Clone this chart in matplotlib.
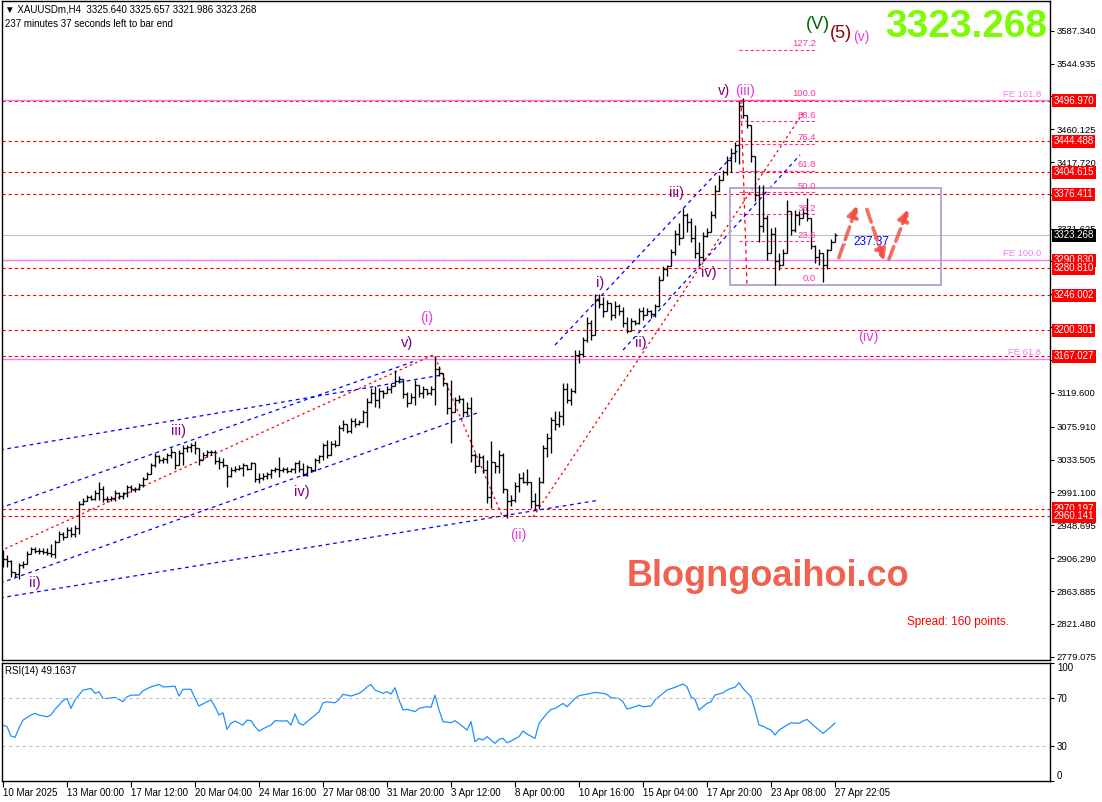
import numpy as np
import matplotlib
matplotlib.use('Agg')
import matplotlib.pyplot as plt
from matplotlib.collections import LineCollection
from matplotlib.patches import Rectangle
from matplotlib.transforms import blended_transform_factory

plt.rcParams['font.family'] = ['Liberation Sans', 'DejaVu Sans']

# XAUUSDm H4 bars (high / low / close)
highs = [
    2917, 2910, 2904, 2889, 2900, 2902, 2915, 2921, 2921, 2920,
    2919, 2920, 2925, 2930, 2941, 2940, 2947, 2947, 2949, 2980,
    2984, 2988, 2988, 2994, 3005, 2999, 2986, 2986, 2994, 2992,
    2992, 3001, 3001, 2998, 3003, 3011, 3018, 3029, 3042, 3040,
    3037, 3042, 3048, 3043, 3046, 3052, 3052, 3055, 3057, 3048,
    3044, 3046, 3046, 3046, 3037, 3035, 3027,
    3024, 3025, 3027, 3029, 3027, 3031, 3029, 3016, 3016, 3018,
    3022, 3024, 3037, 3024, 3024, 3023, 3031, 3033, 3029, 3027,
    3024, 3035, 3040, 3055, 3059, 3057, 3059, 3078, 3085, 3080,
    3087, 3087, 3085, 3098, 3113, 3126, 3128, 3126, 3123, 3128,
    3132, 3149, 3141, 3138, 3121, 3119, 3136, 3130, 3128, 3125,
    3128, 3167, 3154, 3145, 3132, 3136, 3115, 3117, 3113, 3108,
    3115, 3042,
    3042, 3040, 3033, 3057, 3031, 3046, 3042, 2995, 2988, 3005,
    3016, 3018, 3022, 3004, 2990, 3011, 3052, 3068, 3089, 3096,
    3096, 3132, 3132, 3126, 3175, 3175, 3192, 3218, 3214, 3248,
    3248, 3244, 3240, 3236, 3238, 3235, 3231, 3218, 3216, 3214,
    3229, 3231, 3229, 3227, 3235, 3270, 3283, 3285,
    3306, 3330, 3339, 3358, 3352, 3345, 3337, 3315, 3328, 3332,
    3354, 3388, 3401, 3408, 3425, 3436, 3444, 3496, 3500, 3478,
    3465, 3425, 3388, 3388, 3350, 3332, 3334, 3300, 3306, 3369,
    3355, 3356, 3354, 3358, 3371, 3345, 3311, 3306, 3300, 3306,
    3319, 3326,
]
lows = [
    2895, 2895, 2882, 2882, 2880, 2893, 2899, 2912, 2913, 2912,
    2912, 2911, 2908, 2906, 2927, 2930, 2934, 2933, 2934, 2937,
    2975, 2980, 2981, 2981, 2981, 2979, 2979, 2980, 2980, 2983,
    2983, 2985, 2992, 2992, 2994, 2998, 3009, 3015, 3024, 3029,
    3029, 3029, 3035, 3022, 3026, 3027, 3044, 3044, 3041, 3026,
    3033, 3037, 3039, 3028, 3022, 3024, 2998,
    3011, 3018, 3020, 3012, 3020, 3022, 3005, 3003, 3007, 3009,
    3010, 3018, 3011, 3018, 3016, 3018, 3016, 3018, 3012, 3013,
    3018, 3019, 3029, 3033, 3035, 3040, 3050, 3053, 3070, 3068,
    3068, 3076, 3078, 3082, 3076, 3106, 3102, 3100, 3113, 3119,
    3119, 3128, 3132, 3113, 3102, 3106, 3104, 3115, 3113, 3117,
    3117, 3104, 3141, 3128, 3093, 3055, 3095, 3106, 3089, 3091,
    3030, 3016,
    3025, 3016, 2977, 2971, 3016, 3016, 2990, 2958, 2973, 2979,
    2992, 3003, 3001, 2971, 2968, 2970, 3003, 3037, 3042, 3072,
    3076, 3078, 3106, 3104, 3120, 3158, 3166, 3186, 3188, 3195,
    3229, 3218, 3225, 3214, 3216, 3220, 3205, 3197, 3200, 3207,
    3209, 3214, 3220, 3216, 3218, 3231, 3265, 3270,
    3284, 3298, 3311, 3320, 3328, 3315, 3294, 3285, 3290, 3321,
    3328, 3345, 3380, 3395, 3401, 3405, 3418, 3415, 3474, 3462,
    3418, 3368, 3315, 3328, 3291, 3300, 3259, 3278, 3285, 3300,
    3324, 3328, 3336, 3345, 3341, 3306, 3287, 3285, 3263, 3280,
    3304, 3315,
]
closes = [
    2905, 2903, 2888, 2886, 2897, 2899, 2912, 2918, 2916, 2915,
    2914, 2913, 2912, 2927, 2937, 2934, 2943, 2937, 2945, 2976,
    2980, 2985, 2983, 2990, 2996, 2983, 2983, 2984, 2990, 2986,
    2990, 2998, 2996, 2995, 3001, 3009, 3015, 3026, 3038, 3033,
    3034, 3039, 3043, 3027, 3042, 3049, 3050, 3052, 3048, 3033,
    3040, 3043, 3044, 3032, 3030, 3026, 3012,
    3020, 3022, 3023, 3026, 3022, 3029, 3008, 3010, 3012, 3015,
    3020, 3022, 3020, 3022, 3019, 3021, 3029, 3022, 3014, 3024,
    3020, 3033, 3038, 3052, 3040, 3054, 3053, 3075, 3080, 3071,
    3084, 3080, 3082, 3095, 3108, 3120, 3110, 3122, 3119, 3125,
    3128, 3135, 3137, 3118, 3106, 3115, 3130, 3120, 3125, 3120,
    3125, 3150, 3145, 3132, 3100, 3095, 3110, 3112, 3095, 3100,
    3040, 3025,
    3037, 3020, 2985, 3030, 3025, 3040, 2995, 2980, 2982, 3000,
    3010, 3005, 3004, 2980, 2975, 3005, 3048, 3062, 3085, 3080,
    3090, 3125, 3110, 3122, 3168, 3170, 3188, 3210, 3195, 3240,
    3235, 3225, 3236, 3220, 3232, 3225, 3210, 3200, 3212, 3210,
    3225, 3220, 3226, 3222, 3232, 3265, 3280, 3284,
    3302, 3325, 3320, 3350, 3340, 3320, 3300, 3295, 3322, 3328,
    3350, 3380, 3395, 3405, 3420, 3430, 3440, 3490, 3478, 3465,
    3425, 3375, 3335, 3345, 3300, 3325, 3290, 3285, 3300, 3355,
    3330, 3350, 3345, 3352, 3345, 3310, 3295, 3300, 3285, 3304,
    3315, 3323,
]
first_open = 2912
opens = [first_open] + closes[:-1]

# RSI(14) read at bar positions
rsi_idx = [0, 1, 2, 3, 4, 5, 7, 8, 9, 11, 12, 13, 14, 15, 16, 17, 18, 20, 21, 22,
           23, 24, 25, 26, 28, 29, 30, 31, 32, 34, 35, 37, 39, 40, 41, 43, 44, 45, 47, 48,
           49, 51, 52, 53, 54, 55, 56, 57, 58, 60, 61, 62, 63, 64, 66, 67, 68, 70, 71, 72,
           73, 74, 75, 77, 79, 80, 81, 83, 84, 85, 86, 87, 89, 90, 91, 92, 93, 95, 96, 97,
           98, 99, 100, 101, 103, 104, 106, 107, 108, 109, 110, 112, 113, 115, 116, 117, 118, 119, 120, 121,
           123, 124, 125, 126, 127, 129, 130, 131, 133, 134, 136, 137, 138, 139, 140, 141, 143, 144, 146, 147,
           148, 150, 151, 152, 154, 155, 156, 158, 159, 160, 162, 163, 165, 166, 168, 170, 171, 172, 173, 174,
           176, 177, 178, 180, 181, 182, 183, 184, 185, 187, 188, 189, 190, 191, 192, 193, 194, 196, 197, 199,
           200, 201, 203, 204, 205, 207, 208]
rsi_val = [47.4, 46.0, 38.1, 37.0, 45.0, 51.6, 55.9, 57.3, 55.9, 54.4, 55.9, 60.7, 64.3, 68.0, 69.9, 61.5, 68.6, 77.0, 77.6, 78.4,
           74.2, 75.6, 69.9, 69.9, 70.8, 69.1, 67.1, 71.3, 72.7, 72.7, 76.4, 79.7, 81.7, 79.7, 79.7, 80.3, 71.9, 77.6, 77.6, 69.9,
           63.5, 67.1, 68.6, 62.9, 55.9, 57.8, 43.8, 48.9, 50.8, 47.4, 51.6, 51.1, 46.0, 42.4, 46.0, 47.4, 51.1, 50.8, 51.1, 47.4,
           56.7, 48.9, 47.4, 53.0, 58.6, 66.2, 67.1, 66.2, 69.1, 73.3, 72.7, 71.9, 74.2, 76.4, 79.7, 81.7, 77.0, 74.2, 75.6, 73.6,
           79.0, 68.6, 60.2, 60.7, 58.8, 61.5, 63.0, 62.4, 72.7, 60.2, 50.3, 49.4, 51.1, 46.0, 43.2, 50.3, 33.4, 36.2, 34.7, 37.6,
           32.0, 35.3, 36.2, 32.5, 33.9, 37.6, 42.4, 39.8, 36.2, 48.9, 57.3, 60.7, 61.5, 63.5, 65.7, 62.9, 69.9, 72.2, 73.6, 74.2,
           75.0, 74.2, 73.3, 70.5, 69.9, 67.1, 60.9, 62.9, 64.3, 62.9, 63.5, 68.6, 74.2, 77.0, 79.3, 82.1, 79.8, 71.3, 69.1, 60.1,
           65.7, 67.1, 72.7, 74.7, 77.0, 78.4, 79.3, 83.2, 78.4, 71.3, 60.1, 47.4, 46.6, 44.6, 43.2, 39.0, 43.2, 47.4, 49.4, 48.8,
           50.8, 52.2, 46.0, 43.2, 40.4, 46.0, 49.2]

# horizontal levels (red dashed, with price boxes)
red_levels = [3496.970, 3444.488, 3404.615, 3376.411, 3290.830, 3280.810,
              3246.002, 3200.301, 3167.027, 2970.197, 2960.141]
bid = 3323.268
fe_levels = [3163.8, 3291.3, 3497.5]
fe_names = ['FE 61.8', 'FE 100.0', 'FE 161.8']
fib_low, fib_high = 3259.0, 3497.9
fib_ratios = [0.0, 0.236, 0.382, 0.5, 0.618, 0.764, 0.886, 1.0, 1.272]
fib_names = ['0.0', '23.6', '38.2', '50.0', '61.8', '76.4', '88.6', '100.0', '127.2']

# price scale; labels hidden behind the level boxes are left blank
price_ticks = [3587.340, 3544.935, 3502.530, 3460.125, 3417.720, 3375.315, 3331.625,
               3290.005, 3247.600, 3205.195, 3162.665, 3119.600, 3075.910, 3033.505,
               2991.100, 2948.695, 2906.290, 2863.885, 2821.480, 2779.075]
price_labels = ['3587.340', '3544.935', '', '3460.125', '3417.720', '', '3331.625',
                '', '', '', '3162.665', '3119.600', '3075.910', '3033.505',
                '2991.100', '2948.695', '2906.290', '2863.885', '2821.480', '2779.075']
time_ticks = [0, 16, 32, 48, 64, 80, 96, 112, 128, 144, 160, 176, 192, 208]
time_labels = ['10 Mar 2025', '13 Mar 00:00', '17 Mar 12:00', '20 Mar 04:00', '24 Mar 16:00',
               '27 Mar 08:00', '31 Mar 20:00', '3 Apr 12:00', '8 Apr 00:00', '10 Apr 16:00',
               '15 Apr 04:00', '17 Apr 20:00', '23 Apr 08:00', '27 Apr 22:05']

fig = plt.figure(figsize=(11.02, 8.02), dpi=100)
ax = fig.add_axes([2/1102, 1-660/802, 1048/1102, 659/802])
rx = fig.add_axes([2/1102, 1-781.2/802, 1048/1102, 118.4/802])

xmin, xmax = -0.25, 261.75
ax.set_xlim(xmin, xmax)
ax.set_ylim(2774.8, 3625.7)

# bars
segs = []
for i in range(len(closes)):
    segs.append([(i, lows[i]), (i, highs[i])])
    segs.append([(i - 0.5, opens[i]), (i, opens[i])])
    segs.append([(i, closes[i]), (i + 0.5, closes[i])])
ax.add_collection(LineCollection(segs, colors='black', linewidths=0.95, zorder=3))

# levels
for lv in red_levels:
    ax.axhline(lv, color='#ff0000', lw=0.8, ls=(0, (3, 2.5)), zorder=2)
for lv, nm in zip(fe_levels, fe_names):
    ax.axhline(lv, color='#ee82ee', lw=1.0, zorder=2)
    ax.text(259.5, lv + 2, nm, color='#ee82ee', fontsize=6.8, ha='right', va='bottom')
ax.axhline(bid, color='#c0c0c0', lw=0.8, zorder=1)

# fibonacci retracement
fib_x0, fib_x1 = 184, 203.5
for r, nm in zip(fib_ratios, fib_names):
    lv = fib_low + r * (fib_high - fib_low)
    ax.plot([fib_x0, fib_x1], [lv, lv], color='#ff3399', lw=0.8, ls=(0, (3, 2)), zorder=2)
    ax.text(fib_x1 - 0.3, lv + 2, nm, color='#ff3399', fontsize=6.8, ha='right', va='bottom')
ax.plot([184.5, 186], [fib_high, fib_low], color='#ff0000', lw=0.9, ls=(0, (3, 3)), zorder=2)

# channels / trend lines (bar index, price)
blue_lines = [((-0.75, 3046), (110, 3143)),
              ((-0.75, 2971), (102.5, 3160)),
              ((-0.75, 2874), (119.25, 3095)),
              ((-0.75, 2855), (148.75, 2981)),
              ((138, 3181.5), (184.25, 3436)),
              ((155, 3175), (199.25, 3427))]
red_lines = [((-0.75, 2915.5), (107.5, 3168.6)),
             ((108, 3166), (125, 2958)),
             ((132.5, 2959.4), (200, 3481))]
for (a, b) in blue_lines:
    ax.plot([a[0], b[0]], [a[1], b[1]], color='#0000ff', lw=0.9, ls=(0, (3, 3)), zorder=2)
for (a, b) in red_lines:
    ax.plot([a[0], b[0]], [a[1], b[1]], color='#ff0000', lw=0.9, ls=(0, (2, 2.5)), zorder=2)

# box
ax.add_patch(Rectangle((181.75, 3259), 52.75, 125.3, fill=False,
                       edgecolor='#b9a4d8', lw=1.4, zorder=2))

# arrows
arrows = [((208.75, 3291), (213.75, 3365)),
          ((215.75, 3360), (220.5, 3287)),
          ((221.25, 3289), (226.5, 3360))]
for st, en in arrows:
    ax.annotate('', xy=en, xytext=st,
                arrowprops=dict(arrowstyle='-|>', color='#f04a3a', lw=2.6, ls='--',
                                alpha=0.8, mutation_scale=16), zorder=4)

ax.text(210.3, 3314, ':', color='#0000ff', fontsize=8, ha='left', va='center')
ax.text(212.5, 3314, '237:37', color='#0000ff', fontsize=8.5, ha='left', va='center')

# wave labels
purple, magenta = '#800080', '#e040e0'
waves = [('(V)', 203.75, 3595, '#006400', 13),
         ('(5)', 209.5, 3584, '#8b0000', 13),
         ('(v)', 214.5, 3579, magenta, 10),
         ('v)', 180.25, 3509.5, purple, 10.5),
         ('(iii)', 185.5, 3509.5, magenta, 10.5),
         ('iii)', 168.25, 3378, purple, 10.5),
         ('iv)', 176.5, 3274.5, purple, 10.5),
         ('i)', 149.25, 3261.6, purple, 10.5),
         ('ii)', 159.5, 3184, purple, 10.5),
         ('(iv)', 216.25, 3192, magenta, 10.5),
         ('(i)', 106, 3216.4, magenta, 10.5),
         ('v)', 101, 3184, purple, 10.5),
         ('iii)', 43.75, 3070.5, purple, 10.5),
         ('iv)', 74.75, 2991.7, purple, 10.5),
         ('ii)', 8, 2874.2, purple, 10.5),
         ('(ii)', 128.75, 2936.2, magenta, 10.5)]
for t, xx, yy, c, s in waves:
    ax.text(xx, yy, t, color=c, fontsize=s, ha='center', va='center', zorder=5)

# price axis on the right
ax.yaxis.tick_right()
ax.set_yticks(price_ticks)
ax.set_yticklabels(price_labels)
ax.tick_params(axis='y', direction='out', length=3, width=0.8, labelsize=6.8, pad=2)
ax.set_xticks([])
for s in ax.spines.values():
    s.set_linewidth(1.0)

tr = blended_transform_factory(ax.transAxes, ax.transData)
box_x = 1.0035
for lv in red_levels:
    ax.text(box_x, lv, '%.3f' % lv, transform=tr, color='white', fontsize=7,
            ha='left', va='center', clip_on=False, zorder=6,
            bbox=dict(boxstyle='square,pad=0.16', fc='#ff0000', ec='none'))
ax.text(box_x, bid, '%.3f' % bid, transform=tr, color='white', fontsize=7,
        ha='left', va='center', clip_on=False, zorder=6,
        bbox=dict(boxstyle='square,pad=0.16', fc='black', ec='none'))

# texts
fig.text(5/1102, 1-9/802, '\u25bc XAUUSDm,H4  3325.640 3325.657 3321.986 3323.268',
         fontsize=7, va='center', ha='left')
fig.text(5/1102, 1-24/802, '237 minutes 37 seconds left to bar end',
         fontsize=7, va='center', ha='left')
fig.text(1047/1102, 1-27/802, '3323.268', color='#7cfc00', fontsize=28,
         fontweight='bold', ha='right', va='center')
fig.text(768/1102, 1-577/802, 'Blogngoaihoi.co', color='#f05a46', fontsize=26,
         fontweight='bold', ha='center', va='center', alpha=0.95)
fig.text(907/1102, 1-622/802, 'Spread: 160 points.', color='#ff0000', fontsize=8.5,
         ha='left', va='center')

# RSI pane
rx.set_xlim(xmin, xmax)
rx.set_ylim(0, 100)
rx.plot(rsi_idx, rsi_val, color='#1e90ff', lw=0.9)
for lv in (70, 30):
    rx.axhline(lv, color='#c0c0c0', lw=0.8, ls=(0, (3, 3)))
rx.text(0.003, 0.93, 'RSI(14) 49.1637', transform=rx.transAxes, fontsize=7,
        ha='left', va='center')
rx.yaxis.tick_right()
rx.set_yticks([0, 30, 70, 100])
rx.set_yticklabels(['0', '30', '70', '100'])
rx.tick_params(axis='y', direction='out', length=3, width=0.8, labelsize=7, pad=2)
ylabs = rx.get_yticklabels()
ylabs[0].set_va('bottom')
ylabs[3].set_va('top')
rx.set_xticks(time_ticks)
rx.set_xticklabels(time_labels)
rx.tick_params(axis='x', direction='out', length=4, width=0.8, labelsize=7, pad=1)
for lab in rx.get_xticklabels():
    lab.set_ha('left')
for s in rx.spines.values():
    s.set_linewidth(1.0)

fig.savefig('out.png', dpi=100)
